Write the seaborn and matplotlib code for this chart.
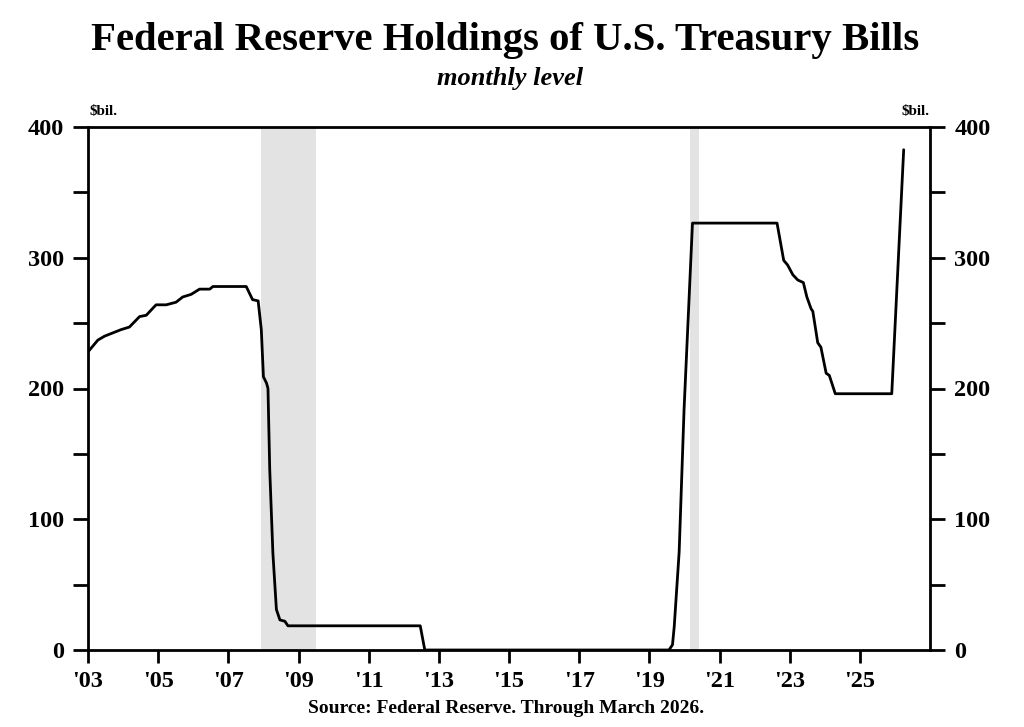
import numpy as np
import pandas as pd
import matplotlib
matplotlib.use("Agg")
import matplotlib.pyplot as plt
import seaborn as sns

# ---- data ----
year = [2003.00, 2003.28, 2003.47, 2003.94, 2004.18, 2004.47, 2004.66, 2004.94,
        2005.23, 2005.37, 2005.51, 2005.70, 2005.94, 2006.18, 2006.47, 2006.56,
        2007.51, 2007.69, 2007.85, 2007.94, 2008.00, 2008.09, 2008.13, 2008.18,
        2008.27, 2008.37, 2008.47, 2008.61, 2008.70, 2012.47, 2012.60, 2019.56,
        2019.66, 2019.71, 2019.85, 2019.99, 2020.23, 2022.64, 2022.83, 2022.94,
        2023.09, 2023.23, 2023.39, 2023.49, 2023.61, 2023.66, 2023.80, 2023.89,
        2024.04, 2024.13, 2024.30, 2025.91, 2026.25]
bills = [228, 237, 240, 245, 247, 255, 256, 264,
         264, 265, 266, 270, 272, 276, 276, 278,
         278, 268, 267, 245, 209, 204, 200, 138,
         74, 31, 23, 22, 18.5, 18.5, 0, 0,
         4, 18, 75, 184, 326.5, 326.5, 298, 294.5,
         287, 283, 281, 270, 261, 259, 235, 231.6,
         211.7, 210, 196, 196, 382.6]
recession_start = [2007.92, 2020.17]
recession_end = [2009.50, 2020.42]
x_ticks = [2003, 2005, 2007, 2009, 2011, 2013, 2015, 2017, 2019, 2021, 2023, 2025]
x_labels = ["'03", "'05", "'07", "'09", "'11", "'13", "'15", "'17", "'19", "'21", "'23", "'25"]
y_ticks = [0, 50, 100, 150, 200, 250, 300, 350, 400]
y_labels = ["0", "", "100", "", "200", "", "300", "", "400"]

df = pd.DataFrame({"year": year, "bills": bills})

sns.set_theme(style="ticks")
plt.rcParams["font.family"] = ["Liberation Serif", "DejaVu Serif"]
plt.rcParams["font.weight"] = "bold"

fig = plt.figure(figsize=(10.24, 7.27), dpi=100)
ax = fig.add_axes([88/1024, 1-650/727, (930-88)/1024, (650-127)/727])

for s, e in zip(recession_start, recession_end):
    ax.axvspan(s, e, color="#e3e3e3", lw=0, zorder=0)

sns.lineplot(data=df, x="year", y="bills", ax=ax, color="black", lw=2.0, zorder=3)

ax.set_xlim(2003, 2027)
ax.set_ylim(0, 400)
ax.set_xticks(x_ticks)
ax.set_xticklabels(x_labels)
ax.set_yticks(y_ticks)
ax.set_yticklabels(y_labels)
ax.set_xlabel("")
ax.set_ylabel("")

for sp in ax.spines.values():
    sp.set_visible(True)
    sp.set_linewidth(2.0)
    sp.set_color("black")

ax.tick_params(axis="y", which="both", left=True, right=True, labelleft=True,
               labelright=True, direction="out", length=10.5, width=2.0, pad=7,
               labelsize=17.5, colors="black")
ax.tick_params(axis="x", which="both", bottom=True, direction="out", length=9,
               width=2.0, pad=6, labelsize=17.5, colors="black")
for lab in ax.get_xticklabels() + ax.get_yticklabels():
    lab.set_fontweight("bold")
for lab in ax.yaxis.get_ticklabels(which="major"):
    lab.set_fontweight("bold")
ax.grid(False)

fig.text(0.493, 1-50/727, "Federal Reserve Holdings of U.S. Treasury Bills",
         ha="center", va="baseline", fontsize=29.3, fontweight="bold", color="black")
fig.text(0.498, 1-85/727, "monthly level", ha="center", va="baseline",
         fontsize=19, fontweight="bold", fontstyle="italic", color="black")
fig.text(89/1024, 1-115/727, "$bil.", ha="left", va="baseline", fontsize=11,
         fontweight="bold", color="black")
fig.text(929/1024, 1-115/727, "$bil.", ha="right", va="baseline", fontsize=11,
         fontweight="bold", color="black")
fig.text(0.494, 1-713/727, "Source: Federal Reserve. Through March 2026.",
         ha="center", va="baseline", fontsize=14, fontweight="bold", color="black")

fig.savefig("out.png", dpi=100, facecolor="white")
